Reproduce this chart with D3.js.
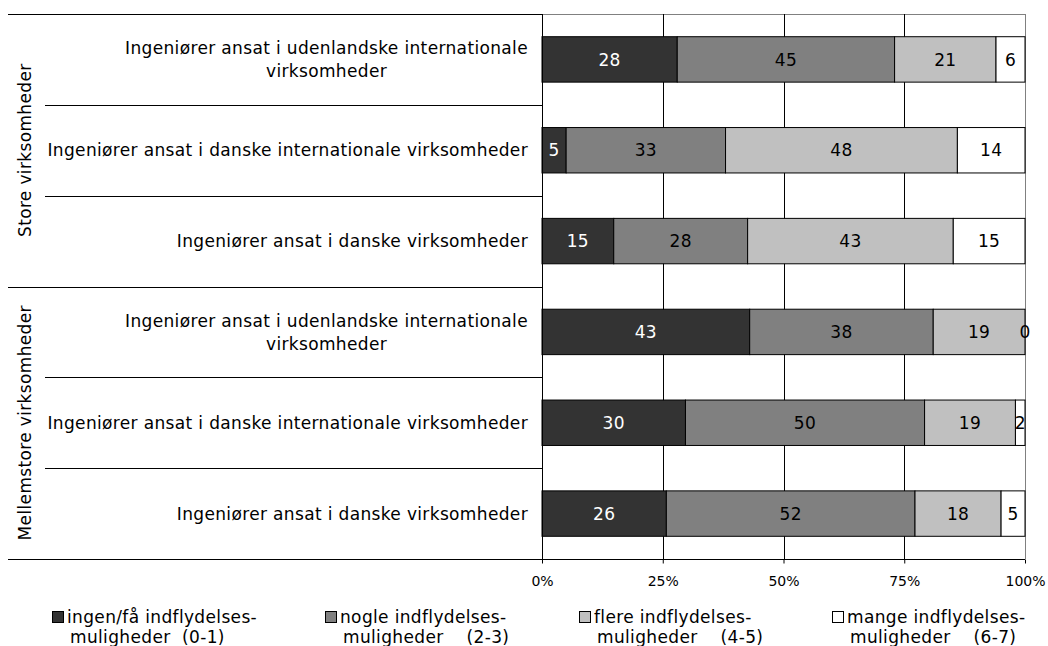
<!DOCTYPE html>
<html>
<head>
<meta charset="utf-8">
<script src="https://cdn.jsdelivr.net/npm/d3@7"></script>
<style>
  html, body { margin: 0; padding: 0; background: #fff; }
  svg { display: block; font-family: "DejaVu Sans", Verdana, sans-serif; }
</style>
</head>
<body>
<svg id="chart" width="1048" height="646"></svg>
<script>
// ---- data ----
const categories = [
  "Ingeniører ansat i udenlandske internationale\nvirksomheder",
  "Ingeniører ansat i danske internationale virksomheder",
  "Ingeniører ansat i danske virksomheder",
  "Ingeniører ansat i udenlandske internationale\nvirksomheder",
  "Ingeniører ansat i danske internationale virksomheder",
  "Ingeniører ansat i danske virksomheder"
];
const groups = ["Store virksomheder", "Mellemstore virksomheder"];
const groupSizes = [3, 3];
const seriesKeys = ["ingen", "nogle", "flere", "mange"];
const seriesLine1 = ["ingen/få indflydelses-", "nogle indflydelses-", "flere indflydelses-", "mange indflydelses-"];
const seriesLine2 = ["muligheder  (0-1)", "muligheder    (2-3)", "muligheder    (4-5)", "muligheder    (6-7)"];
const ingen = [28, 5, 15, 43, 30, 26];
const nogle = [45, 33, 28, 38, 50, 52];
const flere = [21, 48, 43, 19, 19, 18];
const mange = [6, 14, 15, 0, 2, 5];
const tickValues = [0, 0.25, 0.5, 0.75, 1];
const tickLabels = ["0%", "25%", "50%", "75%", "100%"];
const colors = ["#333333", "#808080", "#c0c0c0", "#ffffff"];
const labelColors = ["#ffffff", "#000000", "#000000", "#000000"];

// ---- build table ----
const rows = categories.map((c, i) => ({
  idx: i, cat: c, ingen: ingen[i], nogle: nogle[i], flere: flere[i], mange: mange[i]
}));

const FS = 17, LS = "0.35px";
const svg = d3.select("#chart");
const plot = { left: 542, right: 1025, top: 14, bottom: 559 };

const x = d3.scaleLinear().domain([0, 1]).range([plot.left, plot.right]);
const y = d3.scaleBand().domain(rows.map(d => d.idx)).range([plot.top, plot.bottom]).paddingInner(0.5).paddingOuter(0.25);
const yRow = d3.scaleBand().domain(rows.map(d => d.idx)).range([plot.top, plot.bottom]).padding(0);

const stack = d3.stack().keys(seriesKeys).offset(d3.stackOffsetExpand);
const series = stack(rows);

// top & right border (gray)
svg.append("line").attr("x1", plot.left).attr("x2", plot.right).attr("y1", plot.top + 0.5).attr("y2", plot.top + 0.5)
  .attr("stroke", "#808080").attr("stroke-width", 1);
svg.append("line").attr("x1", plot.right + 0.5).attr("x2", plot.right + 0.5).attr("y1", plot.top).attr("y2", plot.bottom)
  .attr("stroke", "#808080").attr("stroke-width", 1);

// gridlines
svg.append("g").selectAll("line").data([0.25, 0.5, 0.75]).join("line")
  .attr("x1", d => Math.round(x(d)) + 0.5).attr("x2", d => Math.round(x(d)) + 0.5)
  .attr("y1", plot.top).attr("y2", plot.bottom)
  .attr("stroke", "#000").attr("stroke-width", 1);

// bars
const layers = svg.append("g").selectAll("g").data(series).join("g")
  .attr("fill", (d, i) => colors[i]);
layers.selectAll("rect").data(d => d).join("rect")
  .attr("x", d => x(d[0]))
  .attr("width", d => Math.max(0, x(d[1]) - x(d[0])))
  .attr("y", d => y(d.data.idx))
  .attr("height", y.bandwidth())
  .attr("stroke", "#000").attr("stroke-width", 1);

// value labels
series.forEach((s, si) => {
  svg.append("g").selectAll("text").data(s).join("text")
    .attr("x", d => (x(d[0]) + x(d[1])) / 2)
    .attr("y", d => y(d.data.idx) + y.bandwidth() / 2)
    .attr("dy", "0.36em")
    .attr("text-anchor", "middle")
    .attr("font-size", FS)
    .attr("letter-spacing", LS)
    .attr("fill", labelColors[si])
    .text(d => d.data[s.key]);
});

// left axis line
svg.append("line").attr("x1", plot.left + 0.5).attr("x2", plot.left + 0.5).attr("y1", plot.top).attr("y2", plot.bottom + 4)
  .attr("stroke", "#000");

// category separators
const sepG = svg.append("g");
let start = 0;
const groupBounds = [];
groupSizes.forEach((n, gi) => {
  groupBounds.push([yRow(start), yRow(start + n - 1) + yRow.bandwidth()]);
  start += n;
});
rows.forEach(d => {
  const yy = Math.round(yRow(d.idx) + yRow.bandwidth()) + 0.5;
  const isGroupEnd = groupBounds.some(b => Math.abs(b[1] - (yRow(d.idx) + yRow.bandwidth())) < 0.5);
  sepG.append("line").attr("x1", isGroupEnd ? 8 : 45).attr("x2", plot.left).attr("y1", yy).attr("y2", yy)
    .attr("stroke", "#000");
});
sepG.append("line").attr("x1", 8).attr("x2", plot.left).attr("y1", plot.top + 0.5).attr("y2", plot.top + 0.5).attr("stroke", "#000");
sepG.append("line").attr("x1", plot.left).attr("x2", plot.right).attr("y1", Math.round(plot.bottom) + 0.5).attr("y2", Math.round(plot.bottom) + 0.5).attr("stroke", "#000");

// x axis
const xAxis = d3.axisBottom(x).tickValues(tickValues).tickFormat((d, i) => tickLabels[i]).tickSize(4).tickPadding(13);
const axG = svg.append("g").attr("transform", `translate(0,${Math.round(plot.bottom) + 0.5})`).call(xAxis);
axG.select(".domain").remove();
axG.selectAll("text").attr("font-size", 14).attr("font-family", "DejaVu Sans, Verdana, sans-serif").attr("fill", "#000");
axG.selectAll("line").attr("stroke", "#000");

// category labels
const catG = svg.append("g").attr("font-size", FS).attr("letter-spacing", LS).attr("fill", "#000");
rows.forEach(d => {
  const lines = d.cat.split("\n");
  const cy = yRow(d.idx) + yRow.bandwidth() / 2;
  const lh = 23;
  const t = catG.append("text").attr("text-anchor", "middle");
  const tspans = lines.map((ln, li) => t.append("tspan").text(ln));
  const widths = tspans.map(ts => ts.node().getComputedTextLength());
  const W = d3.max(widths);
  const cx = 528 - W / 2;
  const y0 = cy - (lines.length - 1) * lh / 2;
  tspans.forEach((ts, li) => ts.attr("x", cx).attr("y", y0 + li * lh).attr("dy", "0.36em"));
});

// group labels
groups.forEach((g, gi) => {
  const cy = (groupBounds[gi][0] + groupBounds[gi][1]) / 2;
  svg.append("text").attr("transform", `translate(25,${cy}) rotate(-90)`)
    .attr("text-anchor", "middle").attr("dy", "0.36em").attr("font-size", FS).attr("letter-spacing", LS)
    .attr("fill", "#000").text(g);
});

// legend
const legendX = [52, 325, 579, 832];
const leg = svg.append("g").attr("font-size", FS).attr("letter-spacing", LS).attr("fill", "#000");
seriesKeys.forEach((k, i) => {
  const gx = legendX[i];
  leg.append("rect").attr("x", gx + 0.5).attr("y", 611.5).attr("width", 11).attr("height", 11)
    .attr("fill", colors[i]).attr("stroke", "#000");
  leg.append("text").attr("x", gx + 15).attr("y", 617).attr("dy", "0.36em").text(seriesLine1[i]);
  leg.append("text").attr("x", gx + 18).attr("y", 637).attr("dy", "0.36em").style("white-space", "pre").text(seriesLine2[i]);
});
</script>
</body>
</html>
